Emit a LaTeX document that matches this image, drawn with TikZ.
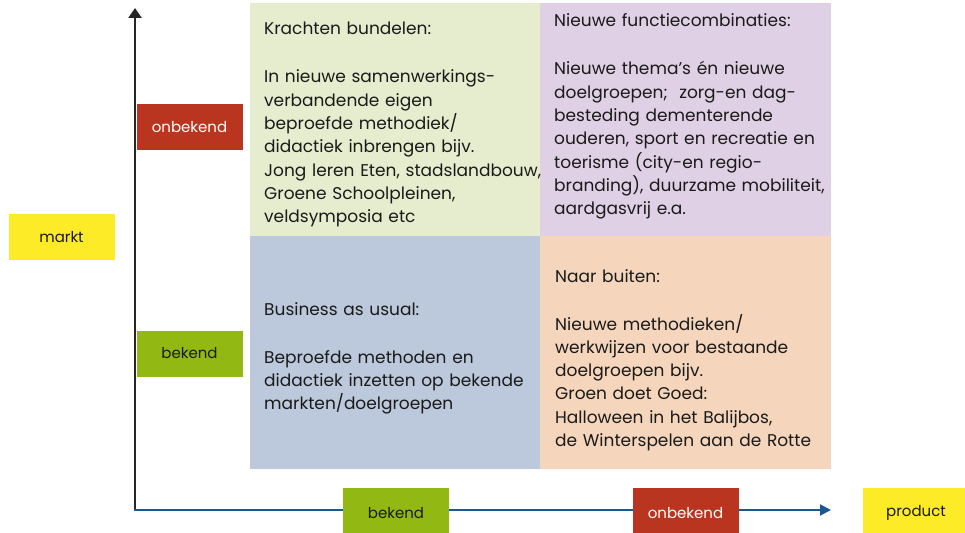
\documentclass[tikz,border=0pt]{standalone}
\usepackage{fontspec}
\setmainfont{Poppins}
\usetikzlibrary{arrows.meta}
\definecolor{qgreen}{HTML}{E6EDCF}
\definecolor{qpurple}{HTML}{E0D0E5}
\definecolor{qblue}{HTML}{BCC8DB}
\definecolor{qpeach}{HTML}{F5D6BC}
\definecolor{lred}{HTML}{BA3520}
\definecolor{lgreen}{HTML}{92B813}
\definecolor{lyellow}{HTML}{FDEB28}
\definecolor{axblue}{HTML}{1B5890}
\definecolor{txtdark}{HTML}{1A1A1A}
\begin{document}
\begin{tikzpicture}
		[x=1pt,y=-1pt,
		txt/.style={anchor=base west,align=left,inner sep=0pt,text width=320pt,text=txtdark,font=\fontsize{17}{23.3}\selectfont},
		lbl/.style={minimum width=106pt,minimum height=46pt,inner sep=0pt,text=txtdark,font=\fontsize{15}{18}\selectfont}]

		\useasboundingbox (0,0) rectangle (965,532);

		\fill[qgreen]  (250,3)   rectangle (540,236);
		\fill[qpurple] (540,3)   rectangle (831,236);
		\fill[qblue]   (250,236) rectangle (540,469);
		\fill[qpeach]  (540,236) rectangle (831,469);

		\node[txt] (t1) at (264,35) {Krachten bundelen:\\[24.7pt]
			In nieuwe samenwerkings-\\
			verbandende eigen\\
			beproefde methodiek/\\
			didactiek inbrengen bijv.\\
			Jong leren Eten, stadslandbouw,\\
			Groene Schoolpleinen,\\
			veldsymposia etc};

		\node[txt] (t2) at (554,27) {Nieuwe functiecombinaties:\\[24.7pt]
			Nieuwe thema’s én nieuwe\\
			doelgroepen;~ zorg-en dag-\\
			besteding dementerende\\
			ouderen, sport en recreatie en\\
			toerisme (city-en regio-\\
			branding), duurzame mobiliteit,\\
			aardgasvrij e.a.};

		\node[txt] (t3) at (264,315) {Business as usual:\\[24.7pt]
			Beproefde methoden en\\
			didactiek inzetten op bekende\\
			markten/doelgroepen};

		\node[txt] (t4) at (555,282) {Naar buiten:\\[24.7pt]
			Nieuwe methodieken/\\
			werkwijzen voor bestaande\\
			doelgroepen bijv.\\
			Groen doet Goed:\\
			Halloween in het Balijbos,\\
			de Winterspelen aan de Rotte};

		\coordinate (o) at (135,510);
		\coordinate (ytop) at (135,8);
		\coordinate (xend) at (831,510);

		\draw[line width=2.4pt,black!85,-{Triangle[length=10pt,width=13pt]}] (o) -- (ytop);
		\draw[line width=2pt,axblue,-{Triangle[length=11pt,width=11pt]}] ([xshift=-1pt]o) -- (xend);

		\node[lbl,fill=lred,text=white] (yunk) at (189.5,127) {onbekend};
		\node[lbl,fill=lgreen] (ykn) at (189.5,353.5) {bekend};
		\node[lbl,fill=lyellow] (markt) at (61.5,237) {markt};

		\node[lbl,fill=lgreen,minimum height=50pt] (xkn) at (396,513) {bekend};
		\node[lbl,fill=lred,text=white,minimum height=50pt] (xunk) at (685.5,513) {onbekend};
		\node[lbl,fill=lyellow,minimum height=50pt] (product) at (916,513) {product};

	\end{tikzpicture}
\end{document}
